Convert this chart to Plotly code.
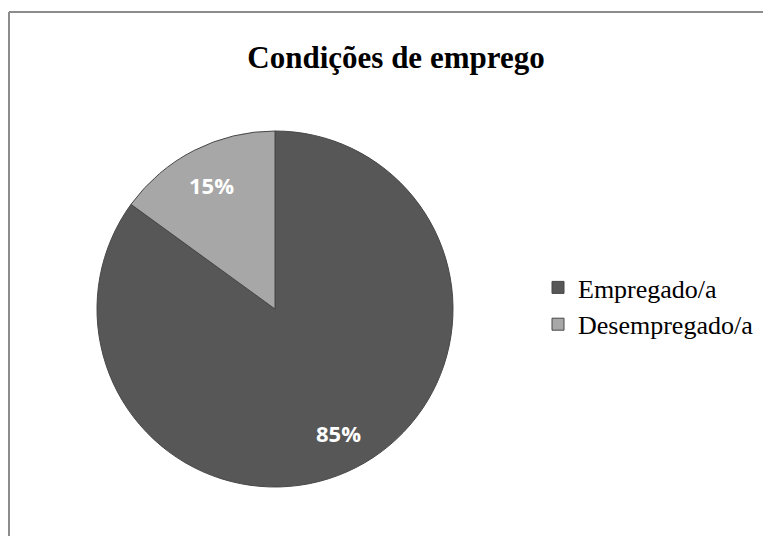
import math
import plotly.graph_objects as go

categories = ["Empregado/a", "Desempregado/a"]
values = [85, 15]
colors = ["#575757", "#a7a7a7"]
title_text = "Condições de emprego"

W, H = 771, 536
OFF = 8  # browser body margin

# pie placement (page pixels)
cx, cy, r = 275 - OFF, 309 - OFF, 178
dom_x = [(cx - r) / W, (cx + r) / W]
dom_y = [1 - (cy + r) / H, 1 - (cy - r) / H]

fig = go.Figure(go.Pie(
    labels=categories,
    values=values,
    sort=False,
    direction="clockwise",
    rotation=0,
    marker=dict(colors=colors, line=dict(color="#474747", width=1)),
    textinfo="none",
    domain=dict(x=dom_x, y=dom_y),
    hoverinfo="label+percent",
))

# percent labels placed along each slice's mid-angle
total = sum(values)
annotations = []
cum = 0
for v in values:
    mid = (cum + v / 2) / total * 2 * math.pi
    cum += v
    px = cx + 0.78 * r * math.sin(mid)
    py = cy - 0.78 * r * math.cos(mid)
    annotations.append(dict(
        text="<b>%d%%</b>" % round(v / total * 100),
        x=px / W, y=1 - py / H, xref="paper", yref="paper",
        showarrow=False, xanchor="center", yanchor="middle",
        font=dict(family="Open Sans, Liberation Sans, sans-serif", size=22, color="white"),
    ))

fig.update_layout(
    width=W, height=H,
    margin=dict(l=0, r=0, t=0, b=0),
    paper_bgcolor="white",
    plot_bgcolor="white",
    title=dict(text="<b>" + title_text + "</b>", x=(396 - OFF) / W, xanchor="center",
               y=1 - (57 - OFF) / H, yanchor="middle",
               font=dict(family="Liberation Serif, Times New Roman, serif", size=31, color="black")),
    showlegend=True,
    legend=dict(x=(538 - OFF) / W, xanchor="left", y=1 - (306 - OFF) / H, yanchor="middle",
                font=dict(family="Liberation Serif, Times New Roman, serif", size=26, color="black"),
                tracegroupgap=0, bgcolor="rgba(0,0,0,0)"),
    annotations=annotations,
    shapes=[
        dict(type="line", xref="paper", yref="paper", x0=1 / W, x1=1 / W, y0=0, y1=1 - 4 / H,
             line=dict(color="#8c8c8c", width=2)),
        dict(type="line", xref="paper", yref="paper", x0=1 / W, x1=1, y0=1 - 4 / H, y1=1 - 4 / H,
             line=dict(color="#8c8c8c", width=2)),
    ],
)

fig.write_html("out.html")
